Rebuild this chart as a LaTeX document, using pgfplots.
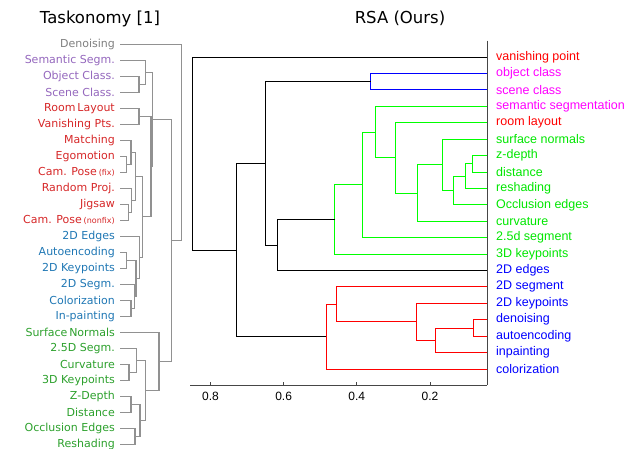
\documentclass[border=0pt]{standalone}
\usepackage{pgfplots}
\pgfplotsset{compat=1.18}
\usepackage{fontspec}
\setmainfont{DejaVu Sans}
\newfontfamily\arial{Liberation Sans}
\definecolor{tgray}{HTML}{7F7F7F}
\definecolor{tpurple}{HTML}{9467BD}
\definecolor{tred}{HTML}{D62728}
\definecolor{tblue}{HTML}{1F77B4}
\definecolor{tgreen}{HTML}{2CA02C}
\definecolor{treeg}{RGB}{145,145,145}
\definecolor{axgray}{RGB}{70,70,70}
\definecolor{mred}{RGB}{255,0,0}
\definecolor{mmag}{RGB}{255,0,255}
\definecolor{mgreen}{RGB}{0,230,0}
\definecolor{mlgreen}{RGB}{0,255,0}
\definecolor{mblue}{RGB}{0,0,255}
\pgfplotsset{tree/.style={draw=treeg,line width=1.2pt,mark=none},
  rt/.style={draw=#1,line width=0.8pt,mark=none}}
\begin{document}
\begin{tikzpicture}[x=1pt,y=1pt]
\path[use as bounding box] (0,0) rectangle (632,449);
\node[anchor=base,inner sep=0pt,font=\fontsize{16.5}{20}\selectfont] at (100,425) {Taskonomy [1]};
\node[anchor=base,inner sep=0pt,font=\fontsize{16.5}{20}\selectfont] at (400,425) {RSA (Ours)};

% ---------------- left dendrogram (Taskonomy) ----------------
\begin{axis}[at={(120pt,0pt)},anchor=south west,scale only axis,width=70pt,height=449pt,
 xmin=120,xmax=190,ymin=-1.769,ymax=26.294,y dir=reverse,clip=false,
 axis line style={draw=none}, major tick style={draw=none}, xtick=\empty,
 ytick={1,...,26}, yticklabel pos=left,
 yticklabels={
 {\textcolor{tgray}{Denoising}},
 {\textcolor{tpurple}{Semantic Segm.}},
 {\textcolor{tpurple}{Object Class.}},
 {\textcolor{tpurple}{Scene Class.}},
 {\textcolor{tred}{Room\,Layout}},
 {\textcolor{tred}{Vanishing Pts.}},
 {\textcolor{tred}{Matching}},
 {\textcolor{tred}{Egomotion}},
 {\textcolor{tred}{Cam. Pose\,{\fontsize{8}{9}\selectfont(fix)}}},
 {\textcolor{tred}{Random Proj.}},
 {\textcolor{tred}{Jigsaw}},
 {\textcolor{tred}{Cam. Pose\,{\fontsize{8}{9}\selectfont(nonfix)}}},
 {\textcolor{tblue}{2D Edges}},
 {\textcolor{tblue}{Autoencoding}},
 {\textcolor{tblue}{2D Keypoints}},
 {\textcolor{tblue}{2D Segm.}},
 {\textcolor{tblue}{Colorization}},
 {\textcolor{tblue}{In-painting}},
 {\textcolor{tgreen}{Surface\,Normals}},
 {\textcolor{tgreen}{2.5D Segm.}},
 {\textcolor{tgreen}{Curvature}},
 {\textcolor{tgreen}{3D Keypoints}},
 {\textcolor{tgreen}{Z-Depth}},
 {\textcolor{tgreen}{Distance}},
 {\textcolor{tgreen}{Occlusion Edges}},
 {\textcolor{tgreen}{Reshading}}},
 yticklabel style={anchor=east,inner sep=0pt,xshift=-5pt,font=\fontsize{11}{13}\selectfont}]
\addplot[tree] coordinates {(120,3) (139,3) (139,4) (120,4)};
\addplot[tree] coordinates {(120,2) (145.7,2) (145.7,3.5) (139,3.5)};
\addplot[tree] coordinates {(120,5) (139,5) (139,6) (120,6)};
\addplot[tree] coordinates {(120,8) (126.7,8) (126.7,9) (120,9)};
\addplot[tree] coordinates {(120,7) (131,7) (131,8.5) (126.7,8.5)};
\addplot[tree] coordinates {(120,11) (128.3,11) (128.3,12) (120,12)};
\addplot[tree] coordinates {(120,10) (131.7,10) (131.7,11.5) (128.3,11.5)};
\addplot[tree] coordinates {(131,7.75) (135.7,7.75) (135.7,10.75) (131.7,10.75)};
\addplot[tree] coordinates {(120,14) (126.7,14) (126.7,15) (120,15)};
\addplot[tree] coordinates {(120,17) (131,17) (131,18) (120,18)};
\addplot[tree] coordinates {(120,16) (134.3,16) (134.3,17.5) (131,17.5)};
\addplot[tree] coordinates {(126.7,14.5) (136,14.5) (136,16.75) (134.3,16.75)};
\addplot[tree] coordinates {(120,13) (139.3,13) (139.3,15.625) (136,15.625)};
\addplot[tree] coordinates {(135.7,9.25) (142.3,9.25) (142.3,14.3125) (139.3,14.3125)};
\addplot[tree] coordinates {(139,5.5) (151,5.5) (151,11.78125) (142.3,11.78125)};
\addplot[tree] coordinates {(145.7,2.75) (152.3,2.75) (152.3,8.640625) (151,8.640625)};
\addplot[tree] coordinates {(120,21) (129,21) (129,22) (120,22)};
\addplot[tree] coordinates {(120,20) (136.7,20) (136.7,21.5) (129,21.5)};
\addplot[tree] coordinates {(120,23) (131,23) (131,24) (120,24)};
\addplot[tree] coordinates {(120,25) (135,25) (135,26) (120,26)};
\addplot[tree] coordinates {(131,23.5) (140,23.5) (140,25.5) (135,25.5)};
\addplot[tree] coordinates {(136.7,20.75) (145.7,20.75) (145.7,24.5) (140,24.5)};
\addplot[tree] coordinates {(120,19) (159,19) (159,22.625) (145.7,22.625)};
\addplot[tree] coordinates {(152.3,5.6953) (171.2,5.6953) (171.2,20.8125) (159,20.8125)};
\addplot[tree] coordinates {(120,1) (181.7,1) (181.7,13.2539) (171.2,13.2539)};
\end{axis}

% ---------------- right dendrogram (RSA) ----------------
\begin{axis}[at={(190pt,63.6pt)},anchor=south west,scale only axis,width=297pt,height=344.8pt,
 xmin=0.044,xmax=0.856,x dir=reverse,ymin=0,ymax=21,y dir=reverse,clip=false,
 axis x line*=bottom, axis y line*=right,
 axis line style={draw=axgray,line width=0.8pt,-},
 xtick={0.8,0.6,0.4,0.2}, xticklabels={0.8,0.6,0.4,0.2},
 tick align=inside, major tick length=3pt,
 x tick style={axgray,line width=0.8pt},
 xticklabel style={font=\arial\fontsize{12}{14}\selectfont,yshift=-3pt},
 ytick={1,...,20}, y tick style={draw=none},
 yticklabel style={anchor=west,inner sep=0pt,xshift=9pt,font=\arial\fontsize{12.5}{15}\selectfont},
 yticklabels={
 {\textcolor{mred}{vanishing point}},
 {\textcolor{mmag}{object class}},
 {\textcolor{mmag}{scene class}},
 {\textcolor{mmag}{semantic segmentation}},
 {\textcolor{mred}{room layout}},
 {\textcolor{mgreen}{surface normals}},
 {\textcolor{mgreen}{z-depth}},
 {\textcolor{mgreen}{distance}},
 {\textcolor{mgreen}{reshading}},
 {\textcolor{mgreen}{Occlusion edges}},
 {\textcolor{mgreen}{curvature}},
 {\textcolor{mgreen}{2.5d segment}},
 {\textcolor{mgreen}{3D keypoints}},
 {\textcolor{mblue}{2D edges}},
 {\textcolor{mblue}{2D segment}},
 {\textcolor{mblue}{2D keypoints}},
 {\textcolor{mblue}{denoising}},
 {\textcolor{mblue}{autoencoding}},
 {\textcolor{mblue}{inpainting}},
 {\textcolor{mblue}{colorization}}}]
% blue cluster
\addplot[rt=mblue] coordinates {(0.044,2) (0.362,2) (0.362,3) (0.044,3)};
% green cluster
\addplot[rt=mlgreen] coordinates {(0.044,7) (0.085,7) (0.085,8) (0.044,8)};
\addplot[rt=mlgreen] coordinates {(0.085,7.5) (0.102,7.5) (0.102,9) (0.044,9)};
\addplot[rt=mlgreen] coordinates {(0.102,8.25) (0.136,8.25) (0.136,10) (0.044,10)};
\addplot[rt=mlgreen] coordinates {(0.044,6) (0.166,6) (0.166,9.125) (0.136,9.125)};
\addplot[rt=mlgreen] coordinates {(0.166,7.5625) (0.235,7.5625) (0.235,11) (0.044,11)};
\addplot[rt=mlgreen] coordinates {(0.044,5) (0.295,5) (0.295,9.28125) (0.235,9.28125)};
\addplot[rt=mlgreen] coordinates {(0.044,4) (0.348,4) (0.348,7.140625) (0.295,7.140625)};
\addplot[rt=mlgreen] coordinates {(0.348,5.5703) (0.384,5.5703) (0.384,12) (0.044,12)};
\addplot[rt=mlgreen] coordinates {(0.384,8.7852) (0.460,8.7852) (0.460,13) (0.044,13)};
% red cluster
\addplot[rt=mred] coordinates {(0.044,17) (0.082,17) (0.082,18) (0.044,18)};
\addplot[rt=mred] coordinates {(0.082,17.5) (0.186,17.5) (0.186,19) (0.044,19)};
\addplot[rt=mred] coordinates {(0.044,16) (0.237,16) (0.237,18.25) (0.186,18.25)};
\addplot[rt=mred] coordinates {(0.044,15) (0.455,15) (0.455,17.125) (0.237,17.125)};
\addplot[rt=mred] coordinates {(0.455,16.0625) (0.484,16.0625) (0.484,20) (0.044,20)};
% black links
\addplot[rt=black] coordinates {(0.460,10.8926) (0.618,10.8926) (0.618,14) (0.044,14)};
\addplot[rt=black] coordinates {(0.362,2.5) (0.649,2.5) (0.649,12.4463) (0.618,12.4463)};
\addplot[rt=black] coordinates {(0.649,7.4731) (0.728,7.4731) (0.728,18.0313) (0.484,18.0313)};
\addplot[rt=black] coordinates {(0.044,1) (0.850,1) (0.850,12.7522) (0.728,12.7522)};
\end{axis}
\end{tikzpicture}
\end{document}
